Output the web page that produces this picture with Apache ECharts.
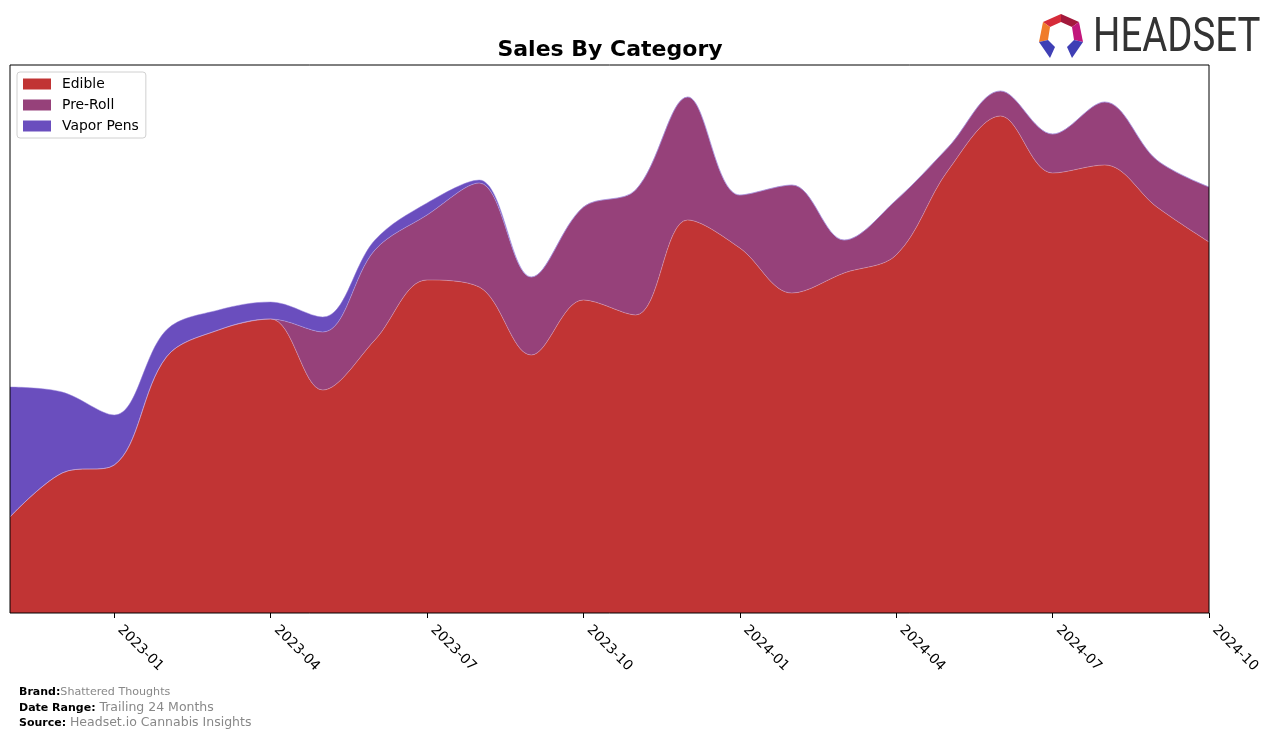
<!DOCTYPE html>
<html><head><meta charset="utf-8">
<script src="https://cdn.jsdelivr.net/npm/echarts@6/dist/echarts.min.js"></script>
<style>html,body{margin:0;padding:0;background:#fff}#c{width:1276px;height:739px}</style>
</head><body><div id="c"></div>
<script>
const months = ['2022-11','2022-12','2023-01','2023-02','2023-03','2023-04','2023-05','2023-06','2023-07','2023-08','2023-09','2023-10','2023-11','2023-12','2024-01','2024-02','2024-03','2024-04','2024-05','2024-06','2024-07','2024-08','2024-09','2024-10'];
const edible    = [96,140,148,256,283,294,223,273,333,326,258,313,298,393,365,320,340,358,443,497,440,448,406,371];
const preRoll   = [0,0,0,0,0,0,58,90,65,104,78,93,125,123,53,108,33,55,23,25,39,63,47,55];
const vaporPens = [130,81,50,27,20,17,15,10,12,3,0,0,0,0,0,0,0,0,0,0,0,0,0,0];
const tickLabels = ['2023-01','2023-04','2023-07','2023-10','2024-01','2024-04','2024-07','2024-10'];

const colors = {Edible:'#c13434', 'Pre-Roll':'#96417a', 'Vapor Pens':'#6a4ebe'};
const showTick = (idx) => tickLabels.indexOf(months[idx]) >= 0;

function mk(name, data, lineColor){
  return {
    name, type:'line', stack:'total', smooth:0.35, symbol:'none',
    data: data,
    lineStyle:{width:0.7, color:lineColor},
    areaStyle:{color:colors[name], opacity:1},
    itemStyle:{color:colors[name]},
    emphasis:{disabled:true}, silent:true
  };
}

const chart = echarts.init(document.getElementById('c'), null, {renderer:'canvas'});
chart.setOption({
  animation:false,
  textStyle:{fontFamily:'DejaVu Sans'},
  grid:{left:10, right:67, top:65, bottom:126, show:true, borderColor:'#000', borderWidth:1, backgroundColor:'transparent', z:5},
  xAxis:{
    type:'category', data:months, boundaryGap:false,
    axisLine:{show:false},
    splitLine:{show:false},
    axisTick:{show:true, length:5, lineStyle:{color:'#000'}, interval:(i)=>showTick(i), alignWithLabel:true},
    axisLabel:{interval:(i)=>showTick(i), rotate:-45, margin:19, align:'left', verticalAlign:'bottom', padding:[0,0,0,1],
      color:'#000', fontSize:13.9, fontFamily:'DejaVu Sans', showMaxLabel:true}
  },
  yAxis:{type:'value', min:0, max:548, show:false},
  legend:{
    orient:'vertical', left:17, top:72, padding:[5,7,5,6],
    borderColor:'#d0d0d0', borderWidth:1, borderRadius:3, backgroundColor:'rgba(255,255,255,0.85)',
    itemWidth:28, itemHeight:11, itemGap:7, icon:'rect',
    textStyle:{fontSize:13.9, lineHeight:14, color:'#000', padding:[0,0,0,6], fontFamily:'DejaVu Sans'},
    data:['Edible','Pre-Roll','Vapor Pens'].map(n=>({name:n, icon:'rect', itemStyle:{color:colors[n], borderWidth:0}}))
  },
  series:[
    mk('Edible', edible, 'rgba(230,180,200,0.6)'),
    mk('Pre-Roll', preRoll, 'rgba(190,170,230,0.7)'),
    mk('Vapor Pens', vaporPens, 'rgba(150,130,220,0.7)')
  ],
  graphic:[
    {type:'text', x:610, y:50, style:{text:'Sales By Category', font:'bold 22px "DejaVu Sans"', fill:'#000', align:'center', verticalAlign:'middle'}},
    {type:'text', x:19, y:692, style:{text:'{b|Brand:}{g|Shattered Thoughts}', verticalAlign:'middle',
      rich:{b:{font:'bold 11px "DejaVu Sans"', fill:'#000'}, g:{font:'11.1px "DejaVu Sans"', fill:'#888'}}}},
    {type:'text', x:19, y:708, style:{text:'{b|Date Range: }{g|Trailing 24 Months}', verticalAlign:'middle',
      rich:{b:{font:'bold 11px "DejaVu Sans"', fill:'#000'}, g:{font:'12.5px "DejaVu Sans"', fill:'#888'}}}},
    {type:'text', x:19, y:723, style:{text:'{b|Source: }{g|Headset.io Cannabis Insights}', verticalAlign:'middle',
      rich:{b:{font:'bold 11px "DejaVu Sans"', fill:'#000'}, g:{font:'12.5px "DejaVu Sans"', fill:'#888'}}}},
    {type:'text', x:1093, y:39, scaleX:0.8, style:{text:'HEADSET', font:'48px Roboto', fill:'#333', verticalAlign:'middle'}},
    {type:'polygon', shape:{points:[[1043,22],[1061,14],[1061,22],[1050,27]]}, style:{fill:'#d62b3a'}},
    {type:'polygon', shape:{points:[[1061,14],[1079,22],[1072,27],[1061,22]]}, style:{fill:'#a3193c'}},
    {type:'polygon', shape:{points:[[1043,22],[1050,27],[1048,40],[1039,42]]}, style:{fill:'#f07c2a'}},
    {type:'polygon', shape:{points:[[1079,22],[1083,42],[1074,40],[1072,27]]}, style:{fill:'#c2177c'}},
    {type:'polygon', shape:{points:[[1039,42],[1048,40],[1055,47],[1050,58]]}, style:{fill:'#3f3fb5'}},
    {type:'polygon', shape:{points:[[1083,42],[1074,40],[1067,47],[1072,58]]}, style:{fill:'#3f3fb5'}}
  ]
});
</script></body></html>
